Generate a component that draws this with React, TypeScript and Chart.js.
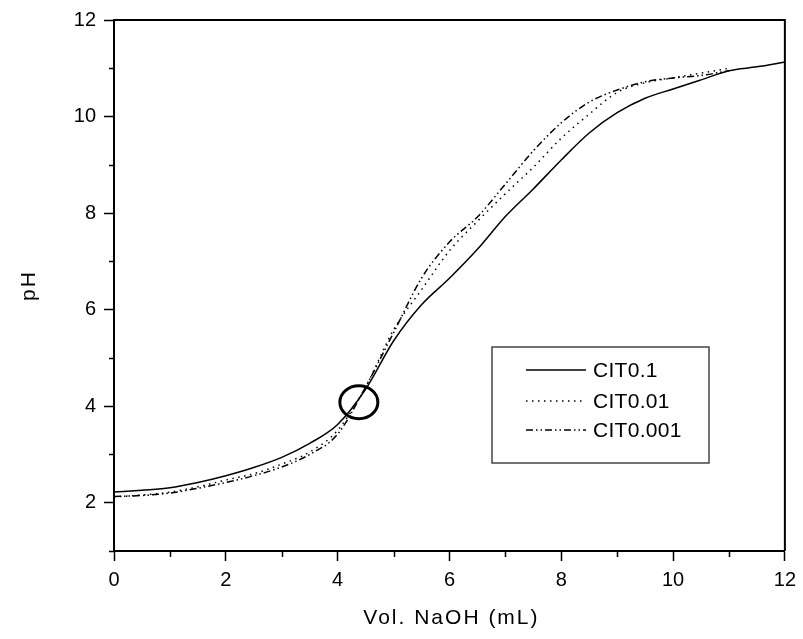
import React, { useEffect, useRef } from "react";
import { Chart, registerables } from "chart.js";

Chart.register(...registerables);

const xVals = [0, 0.5, 1, 1.5, 2, 2.5, 3, 3.5, 4, 4.5, 5, 5.5, 6, 6.5, 7, 7.5, 8, 8.5, 9, 9.5, 10, 10.5, 11, 11.5, 12];
const cit01 = [2.22, 2.26, 2.31, 2.42, 2.56, 2.73, 2.94, 3.23, 3.62, 4.35, 5.35, 6.1, 6.65, 7.25, 7.93, 8.5, 9.1, 9.66, 10.08, 10.38, 10.57, 10.76, 10.95, 11.03, 11.13];
const cit001 = [2.12, 2.16, 2.22, 2.33, 2.47, 2.6, 2.8, 3.05, 3.5, 4.4, 5.58, 6.41, 7.22, 7.83, 8.4, 8.95, 9.55, 10.05, 10.5, 10.7, 10.8, 10.9, 11.0];
const cit0001 = [2.13, 2.15, 2.2, 2.3, 2.42, 2.56, 2.74, 3.0, 3.42, 4.4, 5.52, 6.65, 7.4, 7.92, 8.6, 9.29, 9.87, 10.3, 10.55, 10.72, 10.8, 10.85, 10.95];

const seriesLabels = ["CIT0.1", "CIT0.01", "CIT0.001"];
const xMajorTicks = [0, 2, 4, 6, 8, 10, 12];
const xMinorTicks = [1, 3, 5, 7, 9, 11];
const yMajorTicks = [2, 4, 6, 8, 10, 12];
const yMinorTicks = [1, 3, 5, 7, 9, 11];
const xTitle = "Vol. NaOH (mL)";
const yTitle = "pH";
const markX = 4.38;
const markY = 4.08;

const FONT = "'Liberation Sans', Arial, sans-serif";
const dashes: number[][] = [[], [1.5, 4.5], [7, 3, 1.5, 3, 1.5, 3]];

const decor = {
  id: "decor",
  afterDraw(chart: any) {
    const { ctx, chartArea: a, scales } = chart;
    const xs = scales.x;
    const ys = scales.y;
    ctx.save();
    ctx.strokeStyle = "#000";
    ctx.lineWidth = 2;
    ctx.setLineDash([]);
    ctx.beginPath();
    ctx.moveTo(a.left, a.top);
    ctx.lineTo(a.right, a.top);
    ctx.lineTo(a.right, a.bottom);
    ctx.stroke();
    // minor ticks
    ctx.lineWidth = 1.5;
    ctx.beginPath();
    for (const v of xMinorTicks) {
      const p = Math.round(xs.getPixelForValue(v)) + 0.5;
      ctx.moveTo(p, a.bottom);
      ctx.lineTo(p, a.bottom + 6);
    }
    for (const v of yMinorTicks) {
      const p = Math.round(ys.getPixelForValue(v)) + 0.5;
      ctx.moveTo(a.left, p);
      ctx.lineTo(a.left - 5, p);
    }
    ctx.stroke();
    // circle mark
    ctx.lineWidth = 3;
    ctx.beginPath();
    ctx.ellipse(xs.getPixelForValue(markX), ys.getPixelForValue(markY), 19, 16.5, 0, 0, Math.PI * 2);
    ctx.stroke();
    // titles
    ctx.fillStyle = "#000";
    ctx.font = `21px ${FONT}`;
    try { (ctx as any).letterSpacing = "2px"; } catch (e) {}
    ctx.textAlign = "center";
    ctx.textBaseline = "alphabetic";
    ctx.fillText(xTitle, (a.left + a.right) / 2 + 2, 624);
    ctx.save();
    ctx.translate(35, (a.top + a.bottom) / 2);
    ctx.rotate(-Math.PI / 2);
    ctx.fillText(yTitle, 0, 0);
    ctx.restore();
    // legend
    const bx = a.left + 378, by = a.top + 327, bw = 217, bh = 116;
    ctx.strokeStyle = "#444";
    ctx.lineWidth = 1.5;
    ctx.strokeRect(bx, by, bw, bh);
    ctx.font = `21px ${FONT}`;
    try { (ctx as any).letterSpacing = "0.3px"; } catch (e) {}
    ctx.textAlign = "left";
    ctx.textBaseline = "middle";
    const rows = [by + 23, by + 54, by + 83];
    chart.data.datasets.forEach((ds: any, i: number) => {
      ctx.strokeStyle = "#000";
      ctx.lineWidth = 1.5;
      ctx.setLineDash(dashes[i]);
      ctx.beginPath();
      ctx.moveTo(bx + 34, rows[i]);
      ctx.lineTo(bx + 94, rows[i]);
      ctx.stroke();
      ctx.setLineDash([]);
      ctx.fillText(ds.label, bx + 101, rows[i] + 1);
    });
    ctx.restore();
  },
};

export default function App() {
  const ref = useRef<HTMLCanvasElement | null>(null);
  useEffect(() => {
    if (!ref.current) return;
    const mk = (arr: number[]) => arr.map((y, i) => ({ x: xVals[i], y }));
    const chart = new Chart(ref.current, {
      type: "line",
      data: {
        datasets: [cit01, cit001, cit0001].map((arr, i) => ({
          label: seriesLabels[i],
          data: mk(arr),
          borderColor: "#000",
          borderWidth: 1.5,
          borderDash: dashes[i],
          pointRadius: 0,
          fill: false,
          cubicInterpolationMode: "monotone" as const,
        })),
      },
      options: {
        responsive: false,
        animation: false,
        events: [],
        layout: { padding: { left: 0, top: 19, right: 17, bottom: 0 } },
        plugins: { legend: { display: false }, tooltip: { enabled: false } },
        scales: {
          x: {
            type: "linear",
            min: 0,
            max: 12,
            afterBuildTicks: (s: any) => { s.ticks = xMajorTicks.map((v) => ({ value: v })); },
            afterFit: (s: any) => { s.height = 88; },
            grid: { drawOnChartArea: false, drawTicks: true, tickLength: 10, tickWidth: 1.5, tickColor: "#000", color: "#000" },
            border: { display: true, color: "#000", width: 2 },
            ticks: { color: "#000", font: { family: FONT, size: 20 }, padding: 7, maxRotation: 0, autoSkip: false },
          },
          y: {
            type: "linear",
            min: 1,
            max: 12,
            afterBuildTicks: (s: any) => { s.ticks = yMajorTicks.map((v) => ({ value: v })); },
            afterFit: (s: any) => { s.width = 114; },
            grid: { drawOnChartArea: false, drawTicks: true, tickLength: 10, tickWidth: 1.5, tickColor: "#000", color: "#000" },
            border: { display: true, color: "#000", width: 2 },
            ticks: { color: "#000", font: { family: FONT, size: 20 }, padding: 8, autoSkip: false },
          },
        },
      },
      plugins: [decor],
    });
    return () => chart.destroy();
  }, []);
  return (
    <div style={{ position: "absolute", left: 0, top: 0, width: 803, height: 639, background: "#fff" }}>
      <canvas ref={ref} width={803} height={639} />
    </div>
  );
}
